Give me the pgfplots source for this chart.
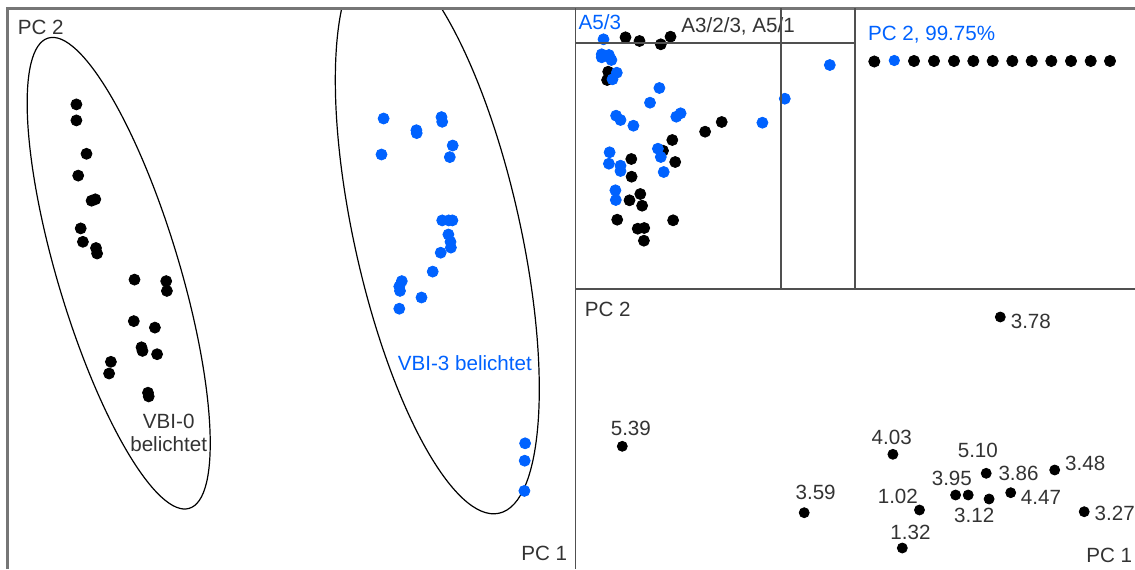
\documentclass[border=0pt]{standalone}
\usepackage{fontspec}
\setmainfont{Liberation Sans}
\usepackage{pgfplots}
\usepackage{pgfplotstable}
\pgfplotsset{compat=1.18}

\definecolor{pblue}{RGB}{0,98,255}
\definecolor{txt}{RGB}{51,51,51}
\definecolor{outer}{RGB}{118,118,118}
\definecolor{inner}{RGB}{80,80,80}

% all panels use pixel-like coordinates, 1 unit = 0.5pt
\pgfplotsset{
  panel/.style={scale only axis, hide axis, y dir=reverse, anchor=north west},
  dots/.style={only marks, mark=*, mark size=2.75pt},
}
\tikzset{lbl/.style={inner sep=0pt, text=txt, font=\fontsize{10.3}{12}\selectfont}}

% left panel: scores
\pgfplotstableread{
x y
76.4 104.4
76.4 120.4
86.5 153.8
78.2 175.6
91.6 200.7
95.3 199.3
80.7 228.4
82.9 241.8
96.0 248.0
97.1 253.5
134.5 279.6
166.2 281.1
166.9 290.9
133.8 321.1
154.9 327.6
141.5 347.3
142.5 350.9
157.1 354.2
110.9 361.8
109.1 373.5
148.0 392.7
148.7 396.4
}\vbizero
\pgfplotstableread{
x y
383.6 118.5
381.5 154.5
416.4 130.2
416.7 133.1
441.5 117.1
442.2 121.8
452.7 145.5
449.8 157.1
442.2 220.4
448.7 220.4
452.4 220.4
448.4 234.5
450.5 241.8
450.9 247.6
440.7 252.7
432.7 271.6
401.8 281.1
399.3 286.5
400.0 290.9
421.5 297.5
399.3 308.7
525.1 443.3
524.7 460.7
524.4 490.9
}\vbithree

% top right panel
\pgfplotstableread{
x y
625.5 37.3
639.5 41.0
660.8 44.3
670.5 36.7
608.2 71.7
607.1 80.0
705.1 131.7
721.7 122.0
672.3 140.0
663.0 150.7
631.3 159.0
675.2 162.0
631.6 176.7
640.3 194.0
629.5 200.3
642.1 205.7
617.2 219.7
673.1 220.3
637.7 228.7
644.2 228.0
643.9 240.7
}\trblack
\pgfplotstableread{
x y
603.5 39.3
601.7 54.3
608.9 55.0
611.4 60.0
601.7 57.3
616.8 72.7
612.5 79.3
659.4 88.0
650.0 102.7
616.1 115.7
620.5 120.0
633.4 125.7
676.3 116.7
680.6 113.3
762.4 122.7
784.8 98.7
829.8 65.0
609.6 152.3
608.9 163.7
620.5 165.7
620.5 171.0
657.9 148.7
660.8 157.0
663.7 172.0
615.4 190.3
615.8 200.0
}\trblue
\pgfplotstableread{
x y
874.3 61.5
914.0 61.0
934.0 61.0
954.0 61.0
973.3 61.0
992.7 61.0
1012.3 61.0
1031.7 61.0
1051.3 61.0
1071.0 61.0
1090.7 61.0
1110.0 61.0
}\rowblack
\pgfplotstableread{
x y
894.3 60.5
}\rowblue

% bottom right panel
\pgfplotstableread{
x y
1000.3 317.0
622.3 446.3
892.9 454.3
986.2 473.3
955.6 495.0
968.2 495.0
989.1 499.0
1010.7 492.7
1054.7 470.0
1084.2 511.7
919.5 510.0
804.2 512.7
902.3 548.0
}\brpoints

\begin{document}
\begin{tikzpicture}
\path[use as bounding box] (0,0) rectangle (567.5pt,284.5pt);

% ---- left panel
\begin{axis}[panel, at={(3.65pt,280.25pt)}, width=284.1pt, height=280.25pt,
  xmin=7.3, xmax=575.5, ymin=8.5, ymax=569]
  \draw[black, line width=0.6pt] (axis cs:118.7,273.2) ellipse [x radius=122.75pt, y radius=30.45pt, rotate=106.7];
  \draw[black, line width=0.6pt] (axis cs:437.3,234.5) ellipse [x radius=142.75pt, y radius=41.55pt, rotate=102.5];
  \addplot[dots, black] table {\vbizero};
  \addplot[dots, pblue] table {\vbithree};
  \node[lbl, anchor=base west] at (axis cs:17.5,34.5) {PC 2};
  \node[lbl, anchor=base east] at (axis cs:567.5,560) {PC 1};
  \node[lbl, anchor=base] at (axis cs:168.7,428.4) {VBI-0};
  \node[lbl, anchor=base] at (axis cs:168.7,451.6) {belichtet};
  \node[lbl, text=pblue, anchor=base] at (axis cs:464.9,370.2) {VBI-3 belichtet};
\end{axis}

% ---- top right panel
\begin{axis}[panel, at={(287.75pt,280.25pt)}, width=279.75pt, height=140.4pt,
  xmin=575.5, xmax=1135, ymin=8.5, ymax=289.3]
  \addplot[dots, black] table {\trblack};
  \addplot[dots, pblue] table {\trblue};
  \addplot[dots, black, mark size=2.8pt] table {\rowblack};
  \addplot[dots, pblue, mark size=2.6pt] table {\rowblue};
  \node[lbl, text=pblue, anchor=base west] at (axis cs:578.3,29.5) {A5/3};
  \node[lbl, anchor=base west] at (axis cs:681,32.3) {A3/2/3, A5/1};
  \node[lbl, text=pblue, anchor=base west] at (axis cs:867.7,40.7) {PC 2, 99.75\%};
\end{axis}

% ---- bottom right panel
\begin{axis}[panel, at={(287.75pt,139.85pt)}, width=279.75pt, height=139.85pt,
  xmin=575.5, xmax=1135, ymin=289.3, ymax=569]
  \addplot[dots, black, mark size=2.5pt] table {\brpoints};
  \node[lbl, anchor=base west] at (axis cs:584.4,316.7) {PC 2};
  \node[lbl, anchor=base west] at (axis cs:1086,562) {PC 1};
  \node[lbl, anchor=base west] at (axis cs:1010.4,328.3) {3.78};
  \node[lbl, anchor=base west] at (axis cs:610.4,435) {5.39};
  \node[lbl, anchor=base west] at (axis cs:871.3,444) {4.03};
  \node[lbl, anchor=base west] at (axis cs:957.4,457.7) {5.10};
  \node[lbl, anchor=base west] at (axis cs:998.1,480) {3.86};
  \node[lbl, anchor=base west] at (axis cs:1064.8,470.7) {3.48};
  \node[lbl, anchor=base west] at (axis cs:931.4,485) {3.95};
  \node[lbl, anchor=base west] at (axis cs:1020.5,504.3) {4.47};
  \node[lbl, anchor=base west] at (axis cs:795.2,499) {3.59};
  \node[lbl, anchor=base west] at (axis cs:877.4,503.3) {1.02};
  \node[lbl, anchor=base west] at (axis cs:953.8,522.7) {3.12};
  \node[lbl, anchor=base west] at (axis cs:1094.3,520) {3.27};
  \node[lbl, anchor=base west] at (axis cs:890,539.3) {1.32};
\end{axis}

% ---- frames and dividers
\begin{scope}[x=0.5pt, y=-0.5pt, yshift=284.5pt]
  \draw[outer, line width=1.2pt] (7.3,569) -- (7.3,8.5) -- (1135,8.5);
  \draw[inner, line width=0.9pt] (575.5,8.5) -- (575.5,569);
  \draw[inner, line width=0.9pt] (575.5,289.3) -- (1135,289.3);
  \draw[inner, line width=0.8pt] (780.7,8.5) -- (780.7,289.3);
  \draw[inner, line width=0.8pt] (855,8.5) -- (855,289.3);
  \draw[inner, line width=0.8pt] (575.5,43) -- (855,43);
\end{scope}
\end{tikzpicture}
\end{document}
